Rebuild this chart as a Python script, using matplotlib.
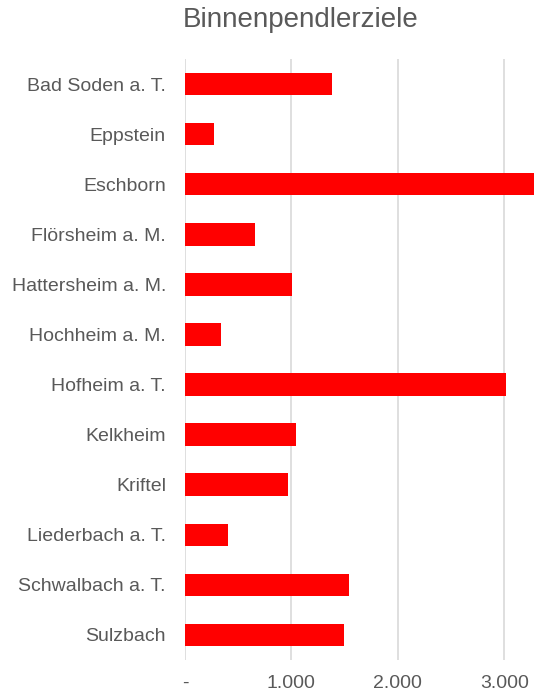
import matplotlib
matplotlib.use("Agg")
import matplotlib.pyplot as plt
from matplotlib.ticker import FuncFormatter

categories = ["Bad Soden a. T.", "Eppstein", "Eschborn", "Flörsheim a. M.",
              "Hattersheim a. M.", "Hochheim a. M.", "Hofheim a. T.", "Kelkheim",
              "Kriftel", "Liederbach a. T.", "Schwalbach a. T.", "Sulzbach"]
values = [1379, 270, 3350, 655, 1010, 335, 3017, 1040, 965, 401, 1538, 1494]
xticks = [0, 1000, 2000, 3000]
title = "Binnenpendlerziele"

plt.rcParams['font.family'] = ['Liberation Sans', 'DejaVu Sans']
fig = plt.figure(figsize=(5.34, 6.98), dpi=100)
ax = fig.add_axes([185/534, 1-660/698, 1-185/534, (660-59)/698])

ypos = list(range(len(categories)))
ax.barh(ypos, values, height=0.45, color="#ff0000", zorder=3)
ax.set_ylim(len(categories)-0.5, -0.5)
ax.set_xlim(0, 3280)
ax.set_yticks(ypos)
ax.set_yticklabels(categories)
ax.set_xticks(xticks)
def fmt(v, pos):
    if v == 0:
        return "-"
    return f"{int(v):,}".replace(",", ".")
ax.xaxis.set_major_formatter(FuncFormatter(fmt))
ax.grid(axis="x", color="#d9d9d9", linewidth=1.2, zorder=0)
for s in ax.spines.values():
    s.set_visible(False)
ax.tick_params(axis="both", length=0, colors="#595959", labelsize=14)
ax.tick_params(axis="y", pad=13.7)
ax.tick_params(axis="x", pad=11)

fig.text(301/534, 1-20/698, title, ha="center", va="center", fontsize=20, color="#595959")

fig.savefig("out.png", dpi=100)
